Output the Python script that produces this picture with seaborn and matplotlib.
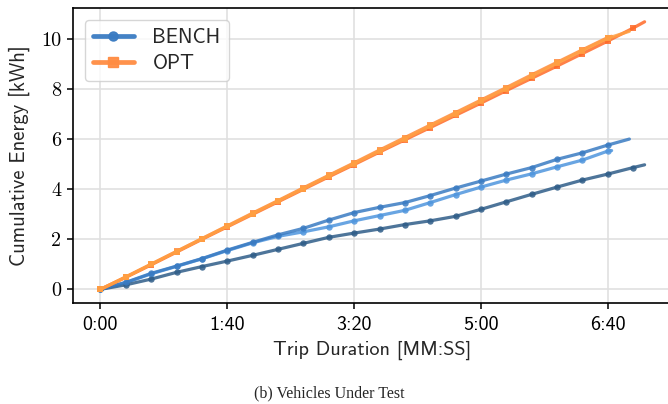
import matplotlib
matplotlib.use("Agg")
import matplotlib.pyplot as plt
from matplotlib.lines import Line2D
from matplotlib.ticker import FuncFormatter, MultipleLocator
import numpy as np
import pandas as pd
import seaborn as sns

# Sample times [s] for each run (every 20 s, plus the final sample)
t_a = [0, 20, 40, 60, 80, 100, 120, 140, 160, 180, 200, 220, 240, 260, 280,
       300, 320, 340, 360, 380, 400, 417]
t_b = [0, 20, 40, 60, 80, 100, 120, 140, 160, 180, 200, 220, 240, 260, 280,
       300, 320, 340, 360, 380, 400, 403]
t_c = [0, 20, 40, 60, 80, 100, 120, 140, 160, 180, 200, 220, 240, 260, 280,
       300, 320, 340, 360, 380, 400, 420, 429]

# Cumulative energy [kWh], benchmark controller
bench_a = [0.0, 0.28, 0.64, 0.93, 1.23, 1.57, 1.88, 2.18, 2.44, 2.77, 3.07,
           3.28, 3.47, 3.75, 4.05, 4.33, 4.61, 4.87, 5.20, 5.46, 5.77, 6.01]
bench_b = [0.0, 0.27, 0.62, 0.92, 1.22, 1.55, 1.86, 2.12, 2.30, 2.50, 2.74,
           2.95, 3.16, 3.47, 3.79, 4.09, 4.37, 4.62, 4.90, 5.17, 5.53, 5.55]
bench_c = [0.0, 0.18, 0.41, 0.68, 0.91, 1.13, 1.36, 1.60, 1.84, 2.08, 2.25,
           2.41, 2.59, 2.74, 2.92, 3.20, 3.50, 3.80, 4.09, 4.37, 4.61, 4.87, 4.98]

# Cumulative energy [kWh], optimised controller
opt_a = [0.0, 0.49, 1.00, 1.51, 2.02, 2.52, 3.03, 3.53, 4.03, 4.54, 5.03,
         5.53, 6.03, 6.53, 7.03, 7.53, 8.03, 8.53, 9.04, 9.55, 10.04, 10.32]
opt_b = [0.0, 0.50, 1.01, 1.52, 2.03, 2.54, 3.05, 3.55, 4.06, 4.56, 5.06,
         5.57, 6.07, 6.57, 7.07, 7.57, 8.07, 8.58, 9.08, 9.58, 10.07, 10.12]
opt_c = [0.0, 0.48, 0.98, 1.49, 2.00, 2.50, 3.00, 3.50, 4.00, 4.50, 4.99,
         5.49, 5.98, 6.47, 6.96, 7.45, 7.95, 8.44, 8.93, 9.43, 9.93, 10.45, 10.70]

runs = [
    ("BENCH", "bench_b", t_b, bench_b),
    ("BENCH", "bench_c", t_c, bench_c),
    ("BENCH", "bench_a", t_a, bench_a),
    ("OPT", "opt_c", t_c, opt_c),
    ("OPT", "opt_b", t_b, opt_b),
    ("OPT", "opt_a", t_a, opt_a),
]

colors = {
    "bench_a": "#3a7bc2",
    "bench_b": "#4f95dd",
    "bench_c": "#2f5d88",
    "opt_a": "#ffa043",
    "opt_b": "#ff8a3d",
    "opt_c": "#ff6a28",
}
markers = {"BENCH": "o", "OPT": "s"}

frames = []
for group, run, t, e in runs:
    frames.append(pd.DataFrame({"time": t, "energy": e, "run": run, "group": group}))
df = pd.concat(frames, ignore_index=True)

sns.set_theme(style="ticks", rc={
    "axes.grid": True,
    "grid.color": "#e0e0e0",
    "grid.linewidth": 1.2,
    "axes.edgecolor": "black",
    "axes.linewidth": 1.2,
    "xtick.color": "black",
    "ytick.color": "black",
    "xtick.major.size": 4.5,
    "ytick.major.size": 4.5,
    "xtick.major.width": 1.1,
    "ytick.major.width": 1.1,
})
plt.rcParams["font.family"] = ["cmss10", "DejaVu Sans"]
plt.rcParams["axes.unicode_minus"] = False

fig = plt.figure(figsize=(6.68, 4.04), dpi=100)
ax = fig.add_axes([0.1097, 0.2507, 0.896, 0.7285])

for group, run, t, e in runs:
    sub = df[df["run"] == run]
    n = len(sub)
    sns.lineplot(
        data=sub, x="time", y="energy", ax=ax, color=colors[run],
        estimator=None, sort=True, linewidth=2.3, alpha=0.85,
        marker=markers[group], markersize=4.6 if group == "BENCH" else 4.8,
        markeredgewidth=0, markevery=slice(0, n - 1),
    )

ax.xaxis.set_major_locator(MultipleLocator(100))
ax.yaxis.set_major_locator(MultipleLocator(2))
ax.xaxis.set_major_formatter(FuncFormatter(lambda v, p: f"{int(v) // 60}:{int(v) % 60:02d}"))
ax.yaxis.set_major_formatter(FuncFormatter(lambda v, p: f"{int(round(v))}"))
ax.set_xlim(-21.45, 450.45)
ax.set_ylim(-0.535, 11.235)

ax.tick_params(axis="x", labelsize=14.5, pad=5)
ax.tick_params(axis="y", labelsize=14.5, pad=4)
fig.canvas.draw()
for lab in ax.get_xticklabels():
    lab.set_fontfamily("cmss10")
for lab in ax.get_yticklabels():
    lab.set_fontfamily("cmr10")

ax.set_xlabel("Trip Duration [MM:SS]", fontsize=14.5, labelpad=5)
ax.set_ylabel("Cumulative Energy [kWh]", fontsize=14.8, labelpad=8)
sns.despine(ax=ax, top=False, right=False)

handles = [
    Line2D([], [], color="#3a7bc2", lw=3.4, marker="o", markersize=6.5, alpha=0.95),
    Line2D([], [], color="#ff8c42", lw=3.4, marker="s", markersize=6.5, alpha=0.95),
]
leg = ax.legend(handles, ["BENCH", "OPT"], loc="upper left", fontsize=14.8,
                frameon=True, fancybox=True, framealpha=0.8, edgecolor="#cccccc",
                handlelength=2.0, borderpad=0.4, labelspacing=0.35,
                borderaxespad=0.55, handletextpad=0.9)

fig.text(0.4925, 0.006, "(b) Vehicles Under Test", ha="center", va="bottom",
         fontsize=11.5, family=["Liberation Serif"])

fig.savefig("out.png", dpi=100)
